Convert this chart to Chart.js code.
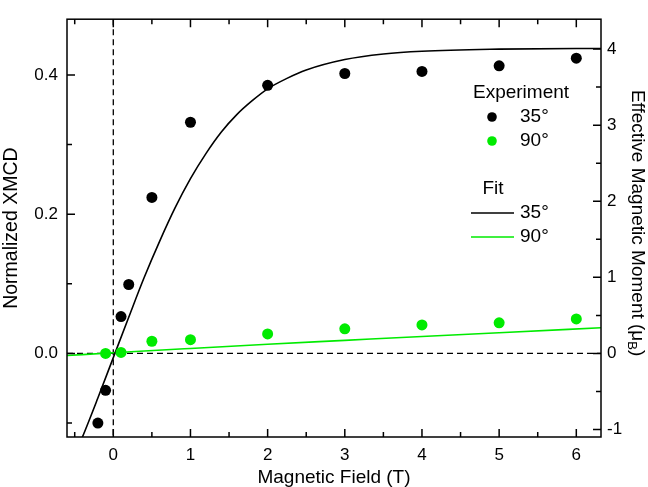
<!DOCTYPE html>
<html>
<head>
<meta charset="utf-8">
<script src="https://cdn.jsdelivr.net/npm/chart.js@4.4.0/dist/chart.umd.min.js"></script>
<style>
  html, body { margin: 0; padding: 0; background: #fff; }
  #wrap { width: 648px; height: 487px; position: relative; }
</style>
</head>
<body>
<div id="wrap"><canvas id="xmcd_field_chart"></canvas></div>
<script>
// experiment, 35 deg (black dots)
const fieldExp35 = [-0.2, -0.1, 0.1, 0.2, 0.5, 1, 2, 3, 4, 5, 6]
const xmcdExp35 = [-0.100, -0.053, 0.053, 0.099, 0.224, 0.332, 0.385, 0.402, 0.405, 0.413, 0.424]
// experiment, 90 deg (green dots)
const fieldExp90 = [-0.1, 0.1, 0.5, 1, 2, 3, 4, 5, 6]
const xmcdExp90 = [0.000, 0.0014, 0.0175, 0.0198, 0.028, 0.0354, 0.041, 0.044, 0.0495]
// fit curves
const fieldFit35 = [-0.6, -0.4, -0.2, 0, 0.2, 0.4, 0.6, 0.8, 1.0, 1.2, 1.4, 1.6, 1.8, 2.0, 2.25, 2.5, 3, 3.5, 4, 5, 6, 6.32]
const xmcdFit35 = [-0.171, -0.120, -0.064, -0.006, 0.052, 0.109, 0.161, 0.209, 0.251, 0.287, 0.318, 0.343, 0.363, 0.380, 0.395, 0.407, 0.422, 0.430, 0.434, 0.437, 0.438, 0.438]
const fieldFit90 = [-0.6, 0, 1, 2, 3, 4, 5, 6.32]
const xmcdFit90 = [-0.003, 0.001, 0.0072, 0.0132, 0.0188, 0.0244, 0.0298, 0.0368]

// ticks
const xTicks = [0, 1, 2, 3, 4, 5, 6]
const xMinorTicks = [-0.5, 0.5, 1.5, 2.5, 3.5, 4.5, 5.5]
const xmcdTicks = [0.0, 0.2, 0.4]
const xmcdMinorTicks = [-0.1, 0.1, 0.3]
const momentTicks = [-1, 0, 1, 2, 3, 4]
const momentMinorTicks = [-0.5, 0.5, 1.5, 2.5, 3.5]

// axis ranges, the right axis is just the left one scaled
const xMin = -0.6, xMax = 6.32
const yMin = -0.12, yMax = 0.48
const momentPerXmcd = 9.15

const GREEN = 'rgb(0, 235, 0)'
const FONT = '"Liberation Sans", Arial, sans-serif'

const toPoints = (xs, ys) => xs.map((x, i) => ({ x: x, y: ys[i] }))
const setTicks = (list) => (scale) => { scale.ticks = list.map(v => ({ value: v })) }

Chart.defaults.color = '#000'
Chart.defaults.font.family = FONT

// frame, inward ticks, zero lines, right title with subscript and the legend
const plotDecor = {
  id: 'plotDecor',
  beforeDatasetsDraw(chart) {
    const { ctx, chartArea: a, scales } = chart
    const x0 = scales.x.getPixelForValue(0)
    const y0 = scales.y.getPixelForValue(0)
    ctx.save()
    ctx.strokeStyle = '#000'
    ctx.lineWidth = 1.3
    ctx.setLineDash([6, 4])
    ctx.beginPath()
    ctx.moveTo(x0, a.top); ctx.lineTo(x0, a.bottom)
    ctx.moveTo(a.left, y0); ctx.lineTo(a.right, y0)
    ctx.stroke()
    ctx.restore()
  },
  afterDraw(chart) {
    const { ctx, chartArea: a, scales } = chart
    ctx.save()
    ctx.strokeStyle = '#000'
    ctx.lineWidth = 1.5
    ctx.strokeRect(a.left, a.top, a.right - a.left, a.bottom - a.top)

    ctx.beginPath()
    const major = 8, minor = 5
    xTicks.concat(xMinorTicks).forEach(v => {
      const len = xTicks.includes(v) ? major : minor
      const px = scales.x.getPixelForValue(v)
      ctx.moveTo(px, a.bottom); ctx.lineTo(px, a.bottom - len)
      ctx.moveTo(px, a.top); ctx.lineTo(px, a.top + len)
    })
    xmcdTicks.concat(xmcdMinorTicks).forEach(v => {
      const len = xmcdTicks.includes(v) ? major : minor
      const py = scales.y.getPixelForValue(v)
      ctx.moveTo(a.left, py); ctx.lineTo(a.left + len, py)
    })
    momentTicks.concat(momentMinorTicks).forEach(v => {
      const len = momentTicks.includes(v) ? major : minor
      const py = scales.y2.getPixelForValue(v)
      ctx.moveTo(a.right, py); ctx.lineTo(a.right - len, py)
    })
    ctx.stroke()

    // right axis title, mu with subscript B
    ctx.fillStyle = '#000'
    ctx.textBaseline = 'middle'
    const big = '19px ' + FONT, small = '13px ' + FONT
    ctx.font = big
    const main = 'Effective Magnetic Moment (\u03bc'
    const wMain = ctx.measureText(main).width
    const wClose = ctx.measureText(')').width
    ctx.font = small
    const wSub = ctx.measureText('B').width
    const total = wMain + wSub + wClose
    ctx.translate(637, (a.top + a.bottom) / 2 - 5)
    ctx.rotate(Math.PI / 2)
    ctx.textAlign = 'left'
    ctx.font = big
    ctx.fillText(main, -total / 2, 0)
    ctx.font = small
    ctx.fillText('B', -total / 2 + wMain, 5)
    ctx.font = big
    ctx.fillText(')', -total / 2 + wMain + wSub, 0)
    ctx.setTransform(1, 0, 0, 1, 0, 0)

    // legend
    ctx.font = big
    ctx.textAlign = 'center'
    ctx.fillText('Experiment', 521, 93)
    ctx.fillText('Fit', 493, 189)
    ctx.textAlign = 'left'
    ctx.fillText('35\u00b0', 520, 117)
    ctx.fillText('90\u00b0', 520, 141)
    ctx.fillText('35\u00b0', 520, 213)
    ctx.fillText('90\u00b0', 520, 237)
    ctx.fillStyle = '#000'
    ctx.beginPath(); ctx.arc(492, 117, 4.8, 0, Math.PI * 2); ctx.fill()
    ctx.fillStyle = GREEN
    ctx.beginPath(); ctx.arc(492, 141, 4.8, 0, Math.PI * 2); ctx.fill()
    ctx.lineWidth = 1.5
    ctx.strokeStyle = '#000'
    ctx.beginPath(); ctx.moveTo(471, 213); ctx.lineTo(514, 213); ctx.stroke()
    ctx.strokeStyle = GREEN
    ctx.beginPath(); ctx.moveTo(471, 237); ctx.lineTo(514, 237); ctx.stroke()
    ctx.restore()
  }
}

new Chart(document.getElementById('xmcd_field_chart'), {
  type: 'scatter',
  data: {
    datasets: [
      {
        label: 'Experiment 35°',
        data: toPoints(fieldExp35, xmcdExp35),
        backgroundColor: '#000',
        borderWidth: 0,
        pointRadius: 5.5,
        order: 1
      }, {
        label: 'Experiment 90°',
        data: toPoints(fieldExp90, xmcdExp90),
        backgroundColor: GREEN,
        borderWidth: 0,
        pointRadius: 5.5,
        order: 2
      }, {
        label: 'Fit 35°',
        data: toPoints(fieldFit35, xmcdFit35),
        showLine: true,
        borderColor: '#000',
        borderWidth: 1.6,
        pointRadius: 0,
        cubicInterpolationMode: 'monotone',
        order: 3
      }, {
        label: 'Fit 90°',
        data: toPoints(fieldFit90, xmcdFit90),
        showLine: true,
        borderColor: GREEN,
        borderWidth: 1.6,
        pointRadius: 0,
        cubicInterpolationMode: 'monotone',
        order: 4
      }]
  },
  options: {
    responsive: true,
    maintainAspectRatio: false,
    animation: false,
    layout: { padding: { top: 13, left: 0, right: 0, bottom: 0 } },
    plugins: {
      legend: { display: false },
      tooltip: { enabled: false }
    },
    scales: {
      x: {
        type: 'linear',
        min: xMin,
        max: xMax,
        afterBuildTicks: setTicks(xTicks),
        afterFit: (scale) => { scale.height = 50 },
        grid: { display: false, drawTicks: false },
        border: { display: false },
        ticks: { padding: 8, font: { size: 17 } },
        title: { display: true, text: 'Magnetic Field (T)', font: { size: 19 }, padding: { top: 0, bottom: -2 } }
      },
      y: {
        type: 'linear',
        position: 'left',
        min: yMin,
        max: yMax,
        afterBuildTicks: setTicks(xmcdTicks),
        afterFit: (scale) => { scale.width = 67 },
        grid: { display: false, drawTicks: false },
        border: { display: false },
        ticks: { padding: 9, font: { size: 17 }, callback: (v) => v.toFixed(1) },
        title: { display: true, text: 'Normalized XMCD', font: { size: 19.5 }, padding: { top: 0, bottom: 0 } }
      },
      y2: {
        type: 'linear',
        position: 'right',
        min: yMin * momentPerXmcd,
        max: yMax * momentPerXmcd,
        afterBuildTicks: setTicks(momentTicks),
        afterFit: (scale) => { scale.width = 47 },
        grid: { display: false, drawTicks: false },
        border: { display: false },
        ticks: { padding: 6, font: { size: 17 } }
      }
    }
  },
  plugins: [plotDecor]
});
</script>
</body>
</html>
